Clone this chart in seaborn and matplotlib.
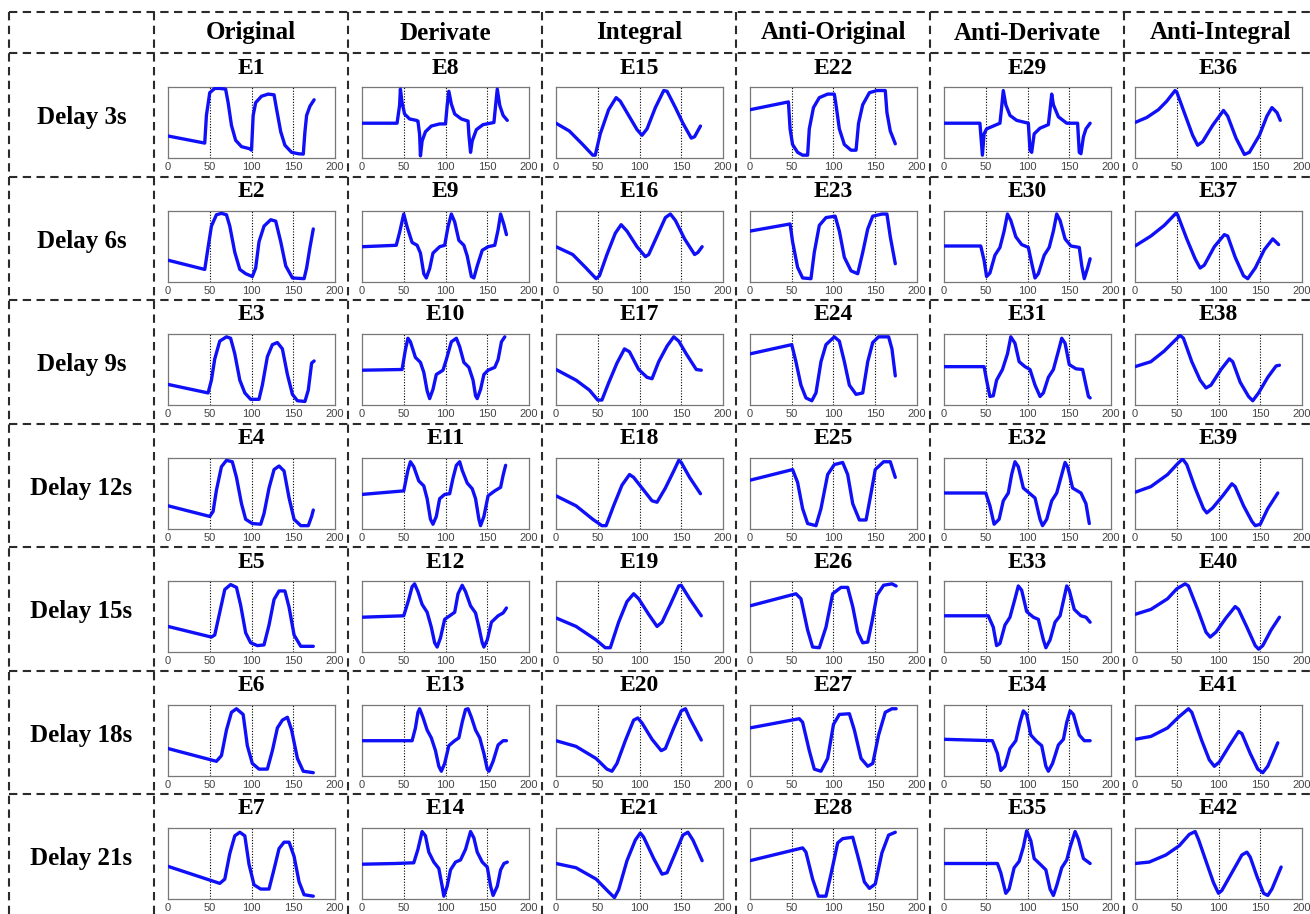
import matplotlib
matplotlib.use("Agg")
import matplotlib.pyplot as plt
import seaborn as sns
from matplotlib.lines import Line2D

col_names = ["Original", "Derivate", "Integral", "Anti-Original", "Anti-Derivate", "Anti-Integral"]
row_names = ["Delay 3s", "Delay 6s", "Delay 9s", "Delay 12s", "Delay 15s", "Delay 18s", "Delay 21s"]
xtick_vals = [0, 50, 100, 150, 200]
guide_x = [50, 100, 150]

# ---- Original ----
e1_x = [0, 44, 46, 50, 56, 62, 69, 72, 76, 81, 88, 98, 100, 102, 105, 112, 120, 127, 130, 135, 140, 148, 156, 162, 164, 166, 170, 175]
e1_y = [0.31, 0.21, 0.6, 0.92, 0.98, 0.98, 0.97, 0.78, 0.46, 0.25, 0.16, 0.13, 0.11, 0.6, 0.78, 0.87, 0.9, 0.89, 0.69, 0.37, 0.18, 0.08, 0.06, 0.055, 0.37, 0.6, 0.73, 0.82]
e2_x = [0, 44, 48, 52, 58, 64, 70, 74, 80, 86, 93, 101, 105, 109, 115, 123, 129, 135, 141, 149, 163, 166, 170, 174]
e2_y = [0.30, 0.17, 0.48, 0.78, 0.94, 0.96, 0.94, 0.78, 0.41, 0.17, 0.11, 0.07, 0.19, 0.56, 0.78, 0.87, 0.85, 0.56, 0.22, 0.05, 0.04, 0.19, 0.48, 0.74]
e3_x = [0, 48, 52, 56, 62, 70, 75, 80, 86, 92, 99, 109, 113, 119, 125, 131, 137, 143, 149, 155, 164, 168, 172, 175]
e3_y = [0.29, 0.17, 0.35, 0.65, 0.9, 0.96, 0.94, 0.72, 0.35, 0.17, 0.08, 0.08, 0.28, 0.68, 0.85, 0.88, 0.79, 0.43, 0.15, 0.06, 0.05, 0.21, 0.59, 0.62]
e4_x = [0, 50, 54, 58, 64, 70, 77, 82, 88, 93, 101, 111, 115, 121, 127, 133, 139, 145, 151, 159, 168, 172, 174]
e4_y = [0.32, 0.17, 0.24, 0.54, 0.87, 0.96, 0.94, 0.72, 0.35, 0.13, 0.07, 0.06, 0.21, 0.57, 0.83, 0.88, 0.81, 0.43, 0.13, 0.04, 0.04, 0.17, 0.26]
e5_x = [0, 52, 56, 62, 68, 75, 82, 87, 93, 99, 107, 115, 121, 127, 133, 140, 145, 151, 159, 174]
e5_y = [0.36, 0.21, 0.24, 0.56, 0.88, 0.95, 0.91, 0.66, 0.27, 0.13, 0.09, 0.1, 0.38, 0.74, 0.86, 0.86, 0.63, 0.24, 0.08, 0.08]
e6_x = [0, 58, 64, 70, 76, 82, 90, 95, 101, 109, 119, 125, 131, 137, 143, 148, 155, 162, 174]
e6_y = [0.38, 0.2, 0.28, 0.64, 0.89, 0.94, 0.86, 0.42, 0.17, 0.09, 0.09, 0.35, 0.67, 0.78, 0.82, 0.64, 0.24, 0.06, 0.04]
e7_x = [0, 62, 68, 74, 80, 86, 92, 97, 103, 111, 121, 127, 133, 139, 145, 151, 157, 163, 174]
e7_y = [0.46, 0.22, 0.28, 0.64, 0.89, 0.94, 0.89, 0.49, 0.2, 0.14, 0.14, 0.42, 0.71, 0.8, 0.8, 0.6, 0.24, 0.06, 0.04]

# ---- Derivate ----
e8_x = [0, 42, 45, 46, 48, 51, 57, 65, 67, 69, 70, 72, 76, 83, 93, 100, 102, 104, 107, 111, 119, 127, 128, 130, 132, 137, 145, 158, 160, 162, 165, 169, 174]
e8_y = [0.49, 0.49, 0.74, 0.97, 0.78, 0.62, 0.55, 0.53, 0.52, 0.33, 0.03, 0.24, 0.37, 0.45, 0.48, 0.48, 0.74, 0.94, 0.76, 0.62, 0.55, 0.52, 0.33, 0.08, 0.24, 0.4, 0.47, 0.5, 0.74, 0.97, 0.74, 0.6, 0.53]
e9_x = [0, 41, 45, 50, 54, 60, 66, 70, 74, 77, 81, 85, 93, 99, 103, 107, 111, 116, 122, 126, 131, 134, 138, 144, 151, 159, 163, 166, 170, 173]
e9_y = [0.49, 0.51, 0.69, 0.95, 0.77, 0.55, 0.51, 0.4, 0.11, 0.05, 0.18, 0.4, 0.49, 0.51, 0.77, 0.95, 0.84, 0.58, 0.51, 0.36, 0.07, 0.05, 0.22, 0.44, 0.49, 0.51, 0.73, 0.95, 0.8, 0.66]
e10_x = [0, 48, 52, 55, 58, 64, 70, 74, 78, 81, 85, 89, 97, 101, 107, 113, 117, 122, 128, 133, 136, 138, 142, 146, 151, 159, 163, 167, 171]
e10_y = [0.49, 0.5, 0.78, 0.94, 0.89, 0.67, 0.6, 0.46, 0.2, 0.09, 0.22, 0.43, 0.49, 0.64, 0.89, 0.94, 0.82, 0.6, 0.53, 0.35, 0.13, 0.09, 0.22, 0.43, 0.49, 0.53, 0.64, 0.89, 0.96]
e11_x = [0, 50, 55, 58, 62, 68, 74, 78, 82, 85, 89, 93, 99, 105, 109, 113, 117, 120, 126, 132, 136, 140, 142, 146, 151, 159, 166, 169, 172]
e11_y = [0.48, 0.53, 0.82, 0.94, 0.87, 0.67, 0.6, 0.42, 0.13, 0.06, 0.17, 0.42, 0.48, 0.49, 0.71, 0.89, 0.94, 0.82, 0.64, 0.56, 0.42, 0.13, 0.04, 0.17, 0.46, 0.53, 0.58, 0.75, 0.89]
e12_x = [0, 50, 56, 60, 63, 67, 72, 78, 83, 87, 90, 94, 99, 105, 111, 115, 120, 124, 130, 136, 140, 144, 146, 150, 155, 163, 169, 173]
e12_y = [0.49, 0.51, 0.74, 0.92, 0.96, 0.85, 0.67, 0.56, 0.35, 0.13, 0.07, 0.2, 0.46, 0.51, 0.56, 0.82, 0.94, 0.85, 0.65, 0.55, 0.35, 0.13, 0.07, 0.17, 0.42, 0.51, 0.55, 0.62]
e13_x = [0, 60, 64, 67, 69, 73, 78, 83, 88, 92, 95, 99, 104, 111, 116, 120, 124, 127, 131, 136, 141, 146, 150, 152, 157, 163, 169, 173]
e13_y = [0.49, 0.49, 0.67, 0.89, 0.94, 0.82, 0.64, 0.53, 0.35, 0.13, 0.06, 0.17, 0.42, 0.49, 0.53, 0.75, 0.93, 0.94, 0.82, 0.64, 0.53, 0.31, 0.09, 0.06, 0.2, 0.43, 0.49, 0.49]
e14_x = [0, 40, 62, 67, 72, 76, 80, 86, 92, 96, 98, 102, 106, 112, 118, 124, 130, 134, 138, 144, 150, 154, 157, 162, 166, 170, 174]
e14_y = [0.49, 0.5, 0.51, 0.7, 0.95, 0.89, 0.66, 0.52, 0.43, 0.18, 0.04, 0.18, 0.41, 0.52, 0.55, 0.7, 0.95, 0.86, 0.66, 0.52, 0.45, 0.18, 0.05, 0.18, 0.41, 0.5, 0.52]

# ---- Integral ----
e15_x = [0, 16, 32, 44, 47, 53, 63, 72, 77, 87, 97, 103, 109, 119, 129, 133, 143, 152, 162, 166, 173]
e15_y = [0.49, 0.38, 0.19, 0.04, 0.04, 0.34, 0.68, 0.85, 0.8, 0.6, 0.4, 0.32, 0.41, 0.71, 0.95, 0.94, 0.71, 0.49, 0.28, 0.3, 0.45]
e16_x = [0, 20, 36, 48, 52, 61, 71, 78, 85, 97, 107, 111, 121, 131, 137, 143, 154, 166, 170, 175]
e16_y = [0.49, 0.38, 0.19, 0.04, 0.08, 0.38, 0.68, 0.8, 0.71, 0.49, 0.35, 0.38, 0.64, 0.9, 0.95, 0.86, 0.6, 0.38, 0.41, 0.49]
e17_x = [0, 24, 40, 50, 55, 63, 73, 82, 88, 99, 109, 115, 123, 133, 141, 147, 156, 168, 174]
e17_y = [0.5, 0.35, 0.21, 0.07, 0.07, 0.31, 0.59, 0.79, 0.75, 0.5, 0.39, 0.37, 0.61, 0.83, 0.96, 0.9, 0.72, 0.5, 0.49]
e18_x = [0, 24, 44, 55, 60, 69, 79, 88, 93, 105, 115, 121, 131, 141, 147, 150, 160, 173]
e18_y = [0.46, 0.32, 0.13, 0.04, 0.04, 0.32, 0.61, 0.76, 0.72, 0.54, 0.39, 0.37, 0.57, 0.81, 0.96, 0.93, 0.72, 0.49]
e19_x = [0, 24, 48, 59, 65, 75, 85, 93, 99, 111, 121, 127, 137, 147, 150, 160, 174]
e19_y = [0.48, 0.36, 0.17, 0.06, 0.06, 0.42, 0.71, 0.82, 0.75, 0.53, 0.36, 0.42, 0.67, 0.93, 0.94, 0.75, 0.51]
e20_x = [0, 24, 48, 61, 67, 73, 83, 93, 98, 103, 115, 126, 131, 141, 150, 155, 160, 174]
e20_y = [0.49, 0.41, 0.24, 0.09, 0.06, 0.17, 0.49, 0.78, 0.81, 0.74, 0.51, 0.35, 0.38, 0.67, 0.91, 0.94, 0.81, 0.5]
e21_x = [0, 24, 48, 63, 70, 75, 85, 95, 101, 105, 117, 127, 133, 143, 152, 158, 164, 175]
e21_y = [0.5, 0.44, 0.28, 0.1, 0.02, 0.13, 0.54, 0.83, 0.93, 0.87, 0.57, 0.35, 0.37, 0.65, 0.9, 0.94, 0.83, 0.54]

# ---- Anti-Original ----
e22_x = [0, 46, 48, 51, 57, 63, 69, 71, 76, 83, 93, 101, 103, 107, 113, 121, 127, 130, 135, 143, 152, 162, 164, 168, 174]
e22_y = [0.68, 0.79, 0.41, 0.19, 0.08, 0.04, 0.04, 0.41, 0.71, 0.85, 0.9, 0.9, 0.75, 0.41, 0.19, 0.11, 0.11, 0.49, 0.75, 0.92, 0.95, 0.95, 0.64, 0.38, 0.2]
e23_x = [0, 48, 51, 57, 63, 73, 77, 83, 91, 102, 107, 113, 121, 129, 135, 141, 147, 158, 164, 168, 174]
e23_y = [0.71, 0.81, 0.56, 0.2, 0.05, 0.04, 0.41, 0.79, 0.9, 0.92, 0.71, 0.34, 0.15, 0.11, 0.41, 0.74, 0.92, 0.95, 0.95, 0.63, 0.25]
e24_x = [0, 50, 55, 61, 67, 74, 79, 85, 91, 101, 107, 113, 119, 127, 135, 141, 147, 154, 166, 170, 174]
e24_y = [0.72, 0.85, 0.61, 0.28, 0.1, 0.06, 0.17, 0.61, 0.85, 0.96, 0.9, 0.61, 0.28, 0.15, 0.17, 0.61, 0.88, 0.96, 0.96, 0.79, 0.41]
e25_x = [0, 51, 57, 63, 69, 79, 85, 93, 101, 111, 117, 123, 131, 139, 145, 150, 160, 168, 174]
e25_y = [0.68, 0.83, 0.65, 0.28, 0.07, 0.04, 0.28, 0.76, 0.9, 0.93, 0.76, 0.35, 0.12, 0.12, 0.5, 0.83, 0.94, 0.94, 0.72]
e26_x = [0, 55, 61, 69, 75, 83, 91, 99, 109, 117, 123, 129, 135, 141, 146, 152, 160, 170, 175]
e26_y = [0.65, 0.82, 0.75, 0.31, 0.07, 0.06, 0.35, 0.82, 0.91, 0.91, 0.64, 0.28, 0.13, 0.14, 0.42, 0.8, 0.94, 0.96, 0.93]
e27_x = [0, 59, 63, 71, 77, 85, 93, 100, 107, 119, 125, 133, 141, 147, 154, 162, 170, 175]
e27_y = [0.67, 0.8, 0.75, 0.35, 0.09, 0.06, 0.24, 0.72, 0.86, 0.87, 0.64, 0.24, 0.13, 0.17, 0.57, 0.89, 0.94, 0.94]
e28_x = [0, 63, 67, 75, 82, 91, 97, 105, 111, 123, 129, 137, 143, 150, 158, 166, 174]
e28_y = [0.54, 0.72, 0.66, 0.28, 0.04, 0.04, 0.35, 0.79, 0.85, 0.87, 0.61, 0.24, 0.15, 0.21, 0.65, 0.9, 0.94]

# ---- Anti-Derivate ----
e29_x = [0, 43, 46, 48, 51, 59, 67, 69, 71, 74, 79, 87, 101, 103, 105, 108, 115, 125, 127, 129, 131, 137, 147, 160, 162, 164, 167, 170, 175]
e29_y = [0.49, 0.49, 0.04, 0.34, 0.41, 0.45, 0.49, 0.71, 0.95, 0.75, 0.6, 0.53, 0.49, 0.11, 0.08, 0.34, 0.42, 0.47, 0.68, 0.9, 0.75, 0.58, 0.49, 0.49, 0.08, 0.06, 0.3, 0.41, 0.49]
e30_x = [0, 44, 48, 51, 55, 61, 67, 72, 76, 80, 86, 93, 101, 105, 109, 113, 120, 126, 131, 135, 139, 145, 152, 162, 165, 168, 172, 175]
e30_y = [0.5, 0.5, 0.3, 0.07, 0.12, 0.37, 0.48, 0.71, 0.95, 0.86, 0.63, 0.52, 0.48, 0.26, 0.05, 0.11, 0.37, 0.48, 0.71, 0.95, 0.86, 0.6, 0.5, 0.48, 0.22, 0.04, 0.19, 0.32]
e31_x = [0, 48, 51, 55, 59, 63, 70, 76, 80, 85, 90, 97, 103, 109, 115, 119, 125, 131, 137, 141, 145, 150, 158, 166, 170, 173, 175]
e31_y = [0.54, 0.54, 0.35, 0.12, 0.13, 0.35, 0.5, 0.72, 0.96, 0.87, 0.61, 0.54, 0.5, 0.28, 0.12, 0.17, 0.39, 0.5, 0.76, 0.94, 0.87, 0.57, 0.51, 0.5, 0.28, 0.12, 0.1]
e32_x = [0, 50, 55, 60, 66, 71, 77, 81, 85, 89, 95, 103, 109, 115, 118, 123, 129, 135, 141, 145, 148, 154, 164, 170, 174]
e32_y = [0.5, 0.5, 0.32, 0.06, 0.13, 0.39, 0.5, 0.76, 0.94, 0.87, 0.57, 0.49, 0.43, 0.13, 0.04, 0.13, 0.39, 0.5, 0.76, 0.93, 0.87, 0.57, 0.5, 0.35, 0.07]
e33_x = [0, 53, 59, 63, 67, 73, 79, 85, 89, 93, 99, 107, 113, 119, 122, 127, 133, 139, 143, 147, 150, 156, 164, 170, 175]
e33_y = [0.51, 0.51, 0.35, 0.09, 0.12, 0.38, 0.49, 0.75, 0.93, 0.87, 0.57, 0.49, 0.46, 0.17, 0.06, 0.17, 0.42, 0.51, 0.72, 0.93, 0.87, 0.6, 0.51, 0.49, 0.42]
e34_x = [0, 58, 64, 68, 73, 79, 86, 91, 95, 99, 104, 111, 117, 122, 125, 130, 137, 143, 147, 151, 155, 162, 168, 175]
e34_y = [0.51, 0.49, 0.31, 0.07, 0.13, 0.38, 0.49, 0.75, 0.91, 0.86, 0.57, 0.48, 0.42, 0.13, 0.06, 0.17, 0.43, 0.51, 0.75, 0.91, 0.86, 0.57, 0.49, 0.49]
e35_x = [0, 64, 68, 74, 78, 84, 90, 95, 99, 104, 108, 116, 122, 127, 131, 135, 141, 147, 151, 157, 161, 167, 175]
e35_y = [0.5, 0.5, 0.37, 0.08, 0.14, 0.44, 0.53, 0.73, 0.96, 0.82, 0.57, 0.48, 0.41, 0.14, 0.05, 0.19, 0.44, 0.55, 0.73, 0.95, 0.84, 0.57, 0.5]

# ---- Anti-Integral ----
e36_x = [0, 14, 28, 38, 48, 50, 59, 69, 75, 81, 93, 106, 111, 121, 131, 137, 149, 158, 164, 170, 174]
e36_y = [0.5, 0.57, 0.68, 0.8, 0.95, 0.93, 0.64, 0.32, 0.18, 0.23, 0.46, 0.67, 0.59, 0.28, 0.05, 0.08, 0.32, 0.59, 0.71, 0.64, 0.53]
e37_x = [0, 19, 35, 49, 51, 62, 72, 78, 83, 95, 107, 111, 120, 130, 135, 144, 155, 165, 172]
e37_y = [0.5, 0.64, 0.79, 0.96, 0.94, 0.6, 0.32, 0.19, 0.23, 0.49, 0.66, 0.64, 0.34, 0.08, 0.04, 0.19, 0.45, 0.6, 0.52]
e38_x = [0, 19, 35, 47, 54, 58, 68, 78, 85, 91, 103, 113, 117, 126, 136, 141, 148, 159, 169, 173]
e38_y = [0.54, 0.61, 0.76, 0.9, 0.98, 0.94, 0.61, 0.35, 0.24, 0.28, 0.5, 0.65, 0.61, 0.32, 0.12, 0.06, 0.17, 0.39, 0.55, 0.56]
e39_x = [0, 19, 39, 50, 57, 62, 72, 82, 86, 93, 105, 116, 120, 130, 140, 144, 150, 159, 171]
e39_y = [0.51, 0.59, 0.76, 0.9, 0.98, 0.9, 0.57, 0.28, 0.22, 0.29, 0.46, 0.63, 0.59, 0.32, 0.1, 0.04, 0.06, 0.28, 0.5]
e40_x = [0, 19, 39, 50, 60, 64, 76, 85, 90, 97, 109, 120, 124, 134, 144, 148, 153, 163, 173]
e40_y = [0.53, 0.6, 0.75, 0.89, 0.96, 0.93, 0.57, 0.28, 0.21, 0.28, 0.48, 0.64, 0.6, 0.35, 0.09, 0.04, 0.09, 0.31, 0.49]
e41_x = [0, 19, 39, 52, 64, 68, 80, 89, 95, 101, 113, 124, 128, 138, 147, 153, 159, 171]
e41_y = [0.51, 0.55, 0.67, 0.82, 0.94, 0.89, 0.49, 0.22, 0.13, 0.19, 0.42, 0.62, 0.59, 0.31, 0.09, 0.04, 0.13, 0.46]
e42_x = [0, 17, 37, 53, 65, 72, 76, 86, 94, 100, 104, 116, 128, 134, 138, 146, 154, 159, 164, 175]
e42_y = [0.5, 0.52, 0.62, 0.75, 0.91, 0.95, 0.84, 0.5, 0.23, 0.08, 0.12, 0.37, 0.62, 0.66, 0.59, 0.32, 0.08, 0.05, 0.14, 0.45]

curves = [
    (e1_x, e1_y), (e2_x, e2_y), (e3_x, e3_y), (e4_x, e4_y), (e5_x, e5_y), (e6_x, e6_y), (e7_x, e7_y),
    (e8_x, e8_y), (e9_x, e9_y), (e10_x, e10_y), (e11_x, e11_y), (e12_x, e12_y), (e13_x, e13_y), (e14_x, e14_y),
    (e15_x, e15_y), (e16_x, e16_y), (e17_x, e17_y), (e18_x, e18_y), (e19_x, e19_y), (e20_x, e20_y), (e21_x, e21_y),
    (e22_x, e22_y), (e23_x, e23_y), (e24_x, e24_y), (e25_x, e25_y), (e26_x, e26_y), (e27_x, e27_y), (e28_x, e28_y),
    (e29_x, e29_y), (e30_x, e30_y), (e31_x, e31_y), (e32_x, e32_y), (e33_x, e33_y), (e34_x, e34_y), (e35_x, e35_y),
    (e36_x, e36_y), (e37_x, e37_y), (e38_x, e38_y), (e39_x, e39_y), (e40_x, e40_y), (e41_x, e41_y), (e42_x, e42_y),
]

sns.set_style("white")
plt.rcParams['font.family'] = ['Liberation Sans', 'DejaVu Sans']

W, H = 1310, 914
fig = plt.figure(figsize=(W / 100, H / 100), dpi=100)
fig.patch.set_facecolor("white")

# table layout in pixels
col_edges = [9, 154, 348, 542, 736, 930, 1124, 1318]
row_edges = [12, 53, 176.5, 300, 423.5, 547, 670.5, 794, 917.5]
ax_offsets = [14, 14, 14, 14, 14, 11]
ax_w, ax_h = 167, 71
serif = ['Liberation Serif', 'DejaVu Serif']

# dashed table lines
dash = (0, (4, 2.6))
for y in row_edges:
    fig.add_artist(Line2D([col_edges[0] / W, col_edges[-1] / W], [1 - y / H, 1 - y / H],
                          transform=fig.transFigure, color="#2b2b2b", lw=1.5, ls=dash))
for x in col_edges:
    fig.add_artist(Line2D([x / W, x / W], [1 - row_edges[0] / H, 1 - row_edges[-1] / H],
                          transform=fig.transFigure, color="#2b2b2b", lw=1.5, ls=dash))

# headers
for c, name in enumerate(col_names):
    cx = (col_edges[c + 1] + col_edges[c + 2]) / 2
    fig.text(cx / W, 1 - 33 / H, name, ha="center", va="center", fontsize=18,
             fontweight="bold", family=serif, color="black")
for r, name in enumerate(row_names):
    cy = (row_edges[r + 1] + row_edges[r + 2]) / 2 + 3
    fig.text(81.5 / W, 1 - cy / H, name, ha="center", va="center", fontsize=18,
             fontweight="bold", family=serif, color="black")

for c in range(6):
    for r in range(7):
        n = c * 7 + r
        xs, ys = curves[n]
        left = col_edges[c + 1] + ax_offsets[c]
        top = row_edges[r + 1] + 34
        ax = fig.add_axes([left / W, 1 - (top + ax_h) / H, ax_w / W, ax_h / H])
        for gx in guide_x:
            ax.axvline(gx, color="black", lw=0.8, ls=(0, (1, 1.5)), zorder=1)
        sns.lineplot(x=xs, y=ys, ax=ax, color="#1010f8", linewidth=2.4,
                     estimator=None, sort=False, zorder=3,
                     solid_joinstyle="round", solid_capstyle="round")
        ax.set_xlim(0, 200)
        ax.set_ylim(0, 1)
        ax.set_xticks(xtick_vals)
        ax.set_xticklabels([str(v) for v in xtick_vals])
        ax.set_yticks([])
        ax.tick_params(axis="x", length=0, pad=3, labelsize=8, labelcolor="#444444")
        for sp in ax.spines.values():
            sp.set_color("#777777")
            sp.set_linewidth(0.9)
        fig.text((left + ax_w / 2) / W, 1 - (row_edges[r + 1] + 15) / H, f"E{n + 1}",
                 ha="center", va="center", fontsize=17, fontweight="bold", family=serif,
                 color="black")

fig.savefig("out.png", dpi=100, facecolor="white")
